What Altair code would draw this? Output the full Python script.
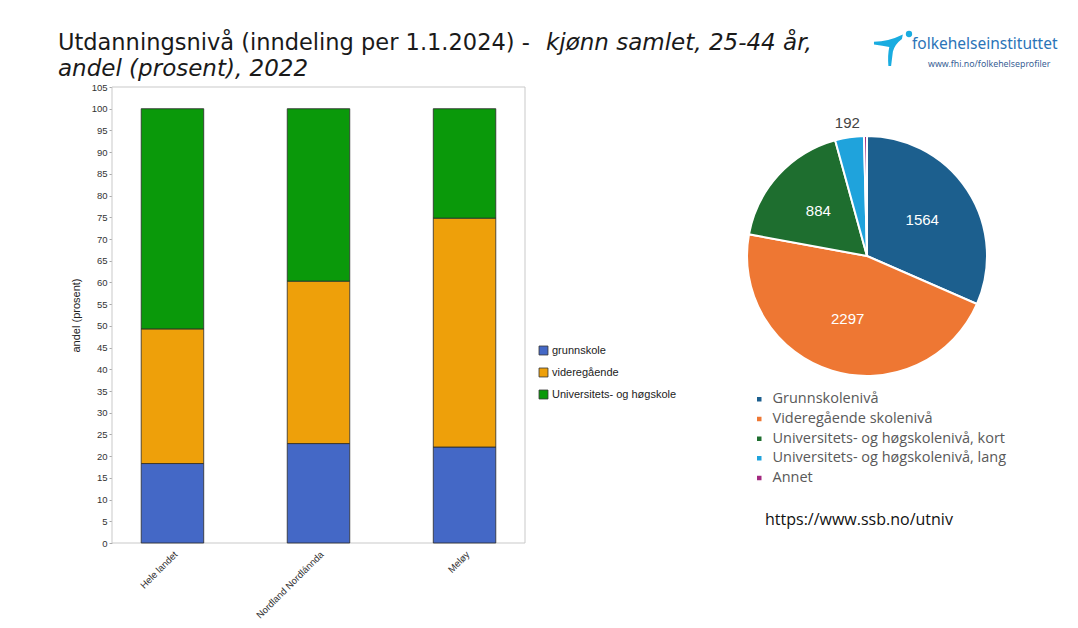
import altair as alt
import pandas as pd

# ---------------- data ----------------
regions = ["Hele landet", "Nordland Nordlánnda", "Meløy"]
levels = ["grunnskole", "videregående", "Universitets- og høgskole"]
grunnskole = [18.3, 22.9, 22.1]
videregaende = [31.0, 37.4, 52.7]
universitet = [50.7, 39.7, 25.2]
bar_colors = ["#4468c6", "#eea00a", "#0a990a"]

pie_cats = ["Grunnskolenivå", "Videregående skolenivå",
            "Universitets- og høgskolenivå, kort",
            "Universitets- og høgskolenivå, lang", "Annet"]
pie_values = [1564, 2297, 884, 192, 20]
pie_labels = ["1564", "2297", "884", "192", ""]
pie_colors = ["#1c5f8e", "#ee7733", "#1e6e2f", "#1fa3dc", "#a3287f"]

y_ticks = list(range(0, 106, 5))

title_a = "Utdanningsnivå (inndeling per 1.1.2024) -"
title_b = "kjønn samlet, 25-44 år,"
title_c = "andel (prosent), 2022"
logo_name = "folkehelseinstituttet"
logo_url = "www.fhi.no/folkehelseprofiler"
source_url = "https://www.ssb.no/utniv"

# ---------------- tables ----------------
rows = []
for i, lv in enumerate(levels):
    vals = [grunnskole, videregaende, universitet][i]
    for r, v in zip(regions, vals):
        rows.append({"region": r, "level": lv, "value": v, "idx": i})
bar_df = pd.DataFrame(rows)

pie_df = pd.DataFrame({
    "cat": pie_cats, "value": pie_values, "idx": list(range(len(pie_cats))),
    "lab_in": [l if i < 3 else "" for i, l in enumerate(pie_labels)],
    "lab_out": [l if i == 3 else "" for i, l in enumerate(pie_labels)],
})

W, H = 1062, 612
FONT = "Liberation Sans"

# ---------------- bar chart ----------------
frame = alt.Chart(pd.DataFrame({"k": [0]})).mark_rect(
    fill="white", stroke="#c9c9c9", strokeWidth=1
).encode(x=alt.value(104), x2=alt.value(517), y=alt.value(79), y2=alt.value(535))

bars = alt.Chart(bar_df).mark_bar(stroke="#2a2a2a", strokeWidth=0.8).encode(
    x=alt.X("region:N", sort=regions,
            scale=alt.Scale(range=[104, 517], paddingInner=0.572, paddingOuter=0.2),
            axis=alt.Axis(title=None, labelAngle=-45, labelFontSize=9.5, labelFont=FONT,
                          labelColor="#333", ticks=False, domain=False, offset=-77,
                          labelPadding=6)),
    y=alt.Y("value:Q", stack=True,
            scale=alt.Scale(domain=[0, 105], range=[535, 79], nice=False, zero=True),
            axis=alt.Axis(values=y_ticks, title="andel (prosent)", titleFont=FONT,
                          titleFontSize=11, titleFontWeight="normal", titleColor="#222",
                          labelFontSize=9.5, labelFont=FONT, labelColor="#333",
                          tickSize=3, tickColor="#aaa", domain=False, grid=False,
                          offset=-104, titlePadding=10)),
    color=alt.Color("level:N", scale=alt.Scale(domain=levels, range=bar_colors),
                    legend=alt.Legend(title=None, orient="none", legendX=530, legendY=337,
                                      symbolType="square", symbolSize=80,
                                      symbolStrokeColor="#333", symbolStrokeWidth=0.8,
                                      labelFont=FONT, labelFontSize=11, labelColor="#222",
                                      rowPadding=9, labelOffset=3, labelLimit=0)),
    order=alt.Order("idx:Q"),
)

# ---------------- pie chart ----------------
CX, CY = 859, 248
theta = alt.Theta("value:Q", stack=True)
arcs = alt.Chart(pie_df).mark_arc(outerRadius=120, stroke="white", strokeWidth=2).encode(
    theta=theta,
    color=alt.Color("cat:N", scale=alt.Scale(domain=pie_cats, range=pie_colors),
                    legend=alt.Legend(title=None, orient="none", legendX=744, legendY=384,
                                      symbolType="square", symbolSize=36,
                                      labelFont="Open Sans", labelFontSize=14.5,
                                      labelColor="#595959", rowPadding=4.7, labelOffset=6,
                                      labelLimit=0)),
    order=alt.Order("idx:Q"),
    x=alt.value(CX), y=alt.value(CY),
)
lab_in = alt.Chart(pie_df).mark_text(radius=66, fontSize=15, font=FONT, color="white").encode(
    theta=theta, detail="cat:N", order=alt.Order("idx:Q"), text="lab_in:N",
    x=alt.value(CX), y=alt.value(CY))
lab_out = alt.Chart(pie_df).mark_text(radius=134, fontSize=15, font=FONT, color="#444").encode(
    theta=theta, detail="cat:N", order=alt.Order("idx:Q"), text="lab_out:N",
    x=alt.value(CX), y=alt.value(CY))

# ---------------- texts ----------------
def txt(s, x, y, **kw):
    return alt.Chart(pd.DataFrame({"t": [s]})).mark_text(**kw).encode(
        text="t:N", x=alt.value(x), y=alt.value(y))

t1 = txt(title_a, 50, 42, align="left", baseline="alphabetic", font="DejaVu Sans",
         fontSize=22.5, color="#1a1a1a")
t2 = txt(title_b, 538, 42, align="left", baseline="alphabetic", font="DejaVu Sans",
         fontSize=23, fontStyle="italic", color="#1a1a1a")
t3 = txt(title_c, 50, 68, align="left", baseline="alphabetic", font="DejaVu Sans",
         fontSize=23, fontStyle="italic", color="#1a1a1a")
src = txt(source_url, 757, 512, align="left", baseline="middle", font="Open Sans",
          fontSize=16, color="#111")
logo1 = txt(logo_name, 904, 36, align="left", baseline="middle", font="Noto Sans",
            fontSize=15.5, color="#2b74b8")
logo2 = txt(logo_url, 920, 56, align="left", baseline="middle", font="Noto Sans",
            fontSize=8.8, color="#3a5f95")
swoosh_path = ("M-1,-0.35 Q-0.2,-0.35 0.6,-0.75 L0.55,-0.5 Q0.15,-0.2 0.05,0.2 "
               "Q0,0.6 -0.05,1 L-0.2,1 Q-0.25,0.4 -0.15,-0.05 Q-0.5,-0.15 -1,-0.2 Z")
swoosh = alt.Chart(pd.DataFrame({"k": [0]})).mark_point(
    shape=swoosh_path, filled=True, fill="#19ace0", opacity=1, size=1300, strokeWidth=0
).encode(x=alt.value(884), y=alt.value(40))
head = alt.Chart(pd.DataFrame({"k": [0]})).mark_point(
    shape="circle", filled=True, fill="#19ace0", opacity=1, size=40
).encode(x=alt.value(901), y=alt.value(26))

chart = alt.layer(
    frame, bars, arcs, lab_in, lab_out, t1, t2, t3, src, logo1, logo2, swoosh, head
).resolve_scale(color="independent").properties(
    width=W, height=H, autosize=alt.AutoSizeParams(type="none"), padding=0,
    background="white"
).configure_view(stroke=None)

chart.save("out.html", embed_options={"renderer": "svg", "actions": False})
